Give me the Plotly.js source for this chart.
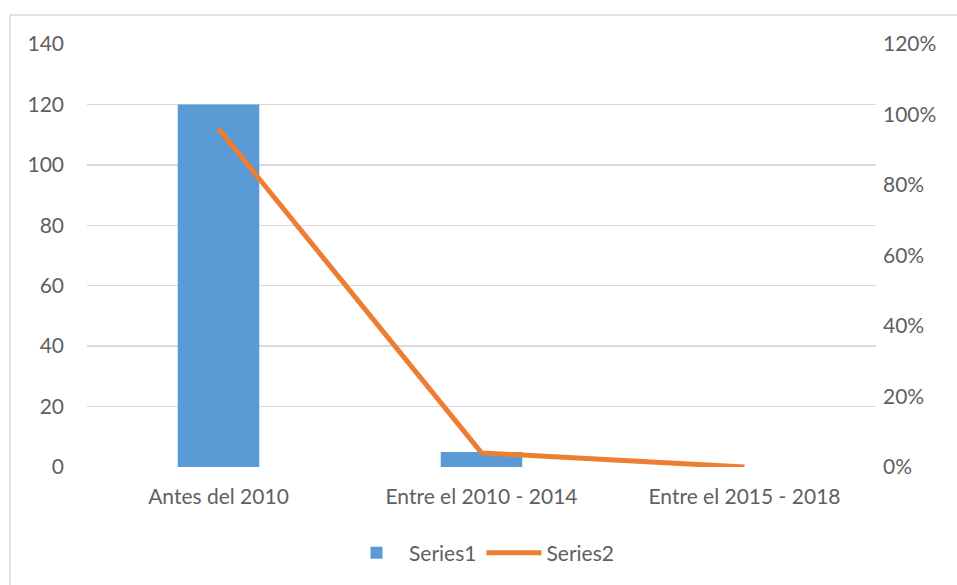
<!DOCTYPE html>
<html>
<head>
<meta charset="utf-8">
<script src="https://cdn.plot.ly/plotly-3.0.1.min.js"></script>
<style>
html,body{margin:0;padding:0;background:#fff;}
#chart{width:957px;height:585px;}
</style>
</head>
<body>
<div id="chart"></div>
<script>
const categories = ["Antes del 2010", "Entre el 2010 - 2014", "Entre el 2015 - 2018"];
const series1 = [120, 5, 0];
const series2 = [0.96, 0.04, 0];
const leftTicks = [0, 20, 40, 60, 80, 100, 120, 140];
const rightTicks = [0, 0.2, 0.4, 0.6, 0.8, 1.0, 1.2];

const font = {family: "Lato, 'Open Sans', sans-serif", size: 21, color: "#5f5f5f"};

const L = 87, R = 876, T = 44, B = 467, W = 957, H = 585;
const pw = R - L, ph = B - T;
const px = v => (v - L) / pw;
const py = v => (B - v) / ph;

const data = [
  {
    type: "bar", name: "Series1", x: categories, y: series1,
    marker: {color: "#5B9BD5"}, yaxis: "y", hoverinfo: "skip"
  },
  {
    type: "scatter", mode: "lines", name: "Series2", x: categories, y: series2,
    line: {color: "#ED7D31", width: 5}, yaxis: "y2", hoverinfo: "skip"
  }
];

const layout = {
  width: W, height: H,
  margin: {l: L, r: W - R, t: T, b: H - B, pad: 0},
  paper_bgcolor: "#fff", plot_bgcolor: "#fff",
  font: font,
  showlegend: true,
  bargap: 0.69,
  legend: {orientation: "h", x: 0.5, xanchor: "center", y: py(553), yanchor: "middle",
           font: font, itemwidth: 55, tracegroupgap: 0},
  xaxis: {
    type: "category", showgrid: false, zeroline: false, showline: false,
    ticks: "", tickfont: font, ticklabelstandoff: 15
  },
  yaxis: {
    range: [0, 140], tickvals: leftTicks, ticktext: leftTicks.map(String),
    showgrid: true, gridcolor: "#d9d9d9", gridwidth: 1.3,
    zeroline: false, showline: false, ticks: "", tickfont: font,
    ticklabelstandoff: 22
  },
  yaxis2: {
    range: [0, 1.2], tickvals: rightTicks, tickformat: ".0%",
    overlaying: "y", side: "right", showgrid: false, zeroline: false,
    showline: false, ticks: "", tickfont: font, ticklabelstandoff: 6
  },
  shapes: [{
    type: "rect", xref: "paper", yref: "paper",
    x0: px(10), x1: px(W + 5), y0: py(H + 5), y1: py(15),
    line: {color: "#d9d9d9", width: 1.5}, fillcolor: "rgba(0,0,0,0)", layer: "below"
  }]
};

Plotly.newPlot("chart", data, layout, {displayModeBar: false, staticPlot: true});
</script>
</body>
</html>
